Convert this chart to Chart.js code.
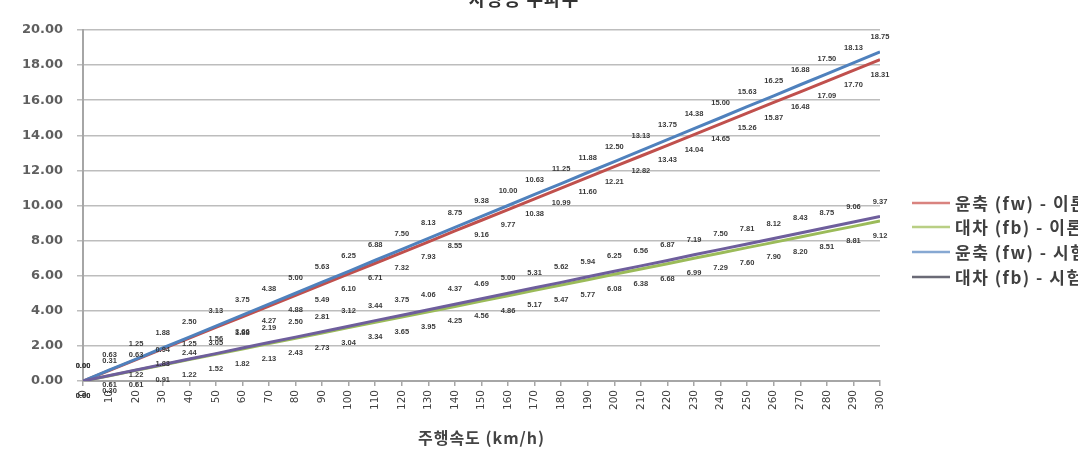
<!DOCTYPE html>
<html>
<head>
<meta charset="utf-8">
<script src="https://cdn.jsdelivr.net/npm/chart.js@4"></script>
<style>
  html, body { margin: 0; padding: 0; background: #fff; overflow: hidden; }
  #wrap { position: absolute; left: 0; top: 0; width: 1200px; height: 459px; }
</style>
</head>
<body>
<div id="wrap"><canvas id="c" width="1200" height="459"></canvas></div>
<script>
// ---- data ----
const chartTitle = "차량용 주파수";
const xAxisTitle = "주행속도 (km/h)";
const speeds = [0,10,20,30,40,50,60,70,80,90,100,110,120,130,140,150,160,170,180,190,200,210,220,230,240,250,260,270,280,290,300];
const fwTheory = [0.00,0.61,1.22,1.83,2.44,3.05,3.66,4.27,4.88,5.49,6.10,6.71,7.32,7.93,8.55,9.16,9.77,10.38,10.99,11.60,12.21,12.82,13.43,14.04,14.65,15.26,15.87,16.48,17.09,17.70,18.31];
const fbTheory = [0.00,0.30,0.61,0.91,1.22,1.52,1.82,2.13,2.43,2.73,3.04,3.34,3.65,3.95,4.25,4.56,4.86,5.17,5.47,5.77,6.08,6.38,6.68,6.99,7.29,7.60,7.90,8.20,8.51,8.81,9.12];
const fwTest = [0.00,0.63,1.25,1.88,2.50,3.13,3.75,4.38,5.00,5.63,6.25,6.88,7.50,8.13,8.75,9.38,10.00,10.63,11.25,11.88,12.50,13.13,13.75,14.38,15.00,15.63,16.25,16.88,17.50,18.13,18.75];
const fbTest = [0.00,0.31,0.63,0.94,1.25,1.56,1.88,2.19,2.50,2.81,3.12,3.44,3.75,4.06,4.37,4.69,5.00,5.31,5.62,5.94,6.25,6.56,6.87,7.19,7.50,7.81,8.12,8.43,8.75,9.06,9.37];
const seriesLabels = ["윤축 (fw) - 이론", "대차 (fb) - 이론", "윤축 (fw) - 시험", "대차 (fb) - 시험"];
const yTicks = [0,2,4,6,8,10,12,14,16,18,20];

const colors = ["#C0504D", "#9BBB59", "#4F81BD", "#6E5E9C"];
const legendColors = ["#D9837F", "#B9CF84", "#86A8D2", "#6A6A76"];
const labelOffsets = [15, 15, -15, -15];
const orders = [4, 3, 2, 1];

function pts(vals) { return speeds.map((s, i) => ({ x: s, y: vals[i] })); }
const allSeries = [fwTheory, fbTheory, fwTest, fbTest];

const datasets = allSeries.map((vals, i) => ({
  label: seriesLabels[i],
  data: pts(vals),
  borderColor: colors[i],
  backgroundColor: colors[i],
  borderWidth: 3,
  pointRadius: 0,
  tension: 0,
  fill: false,
  order: orders[i]
}));

const extras = {
  id: 'extras',
  afterDatasetsDraw(chart) {
    const ctx = chart.ctx;
    ctx.save();
    ctx.font = 'bold 7.5px "Liberation Sans"';
    ctx.fillStyle = '#3a3a3a';
    ctx.textAlign = 'center';
    ctx.textBaseline = 'middle';
    chart.data.datasets.forEach((ds, i) => {
      const meta = chart.getDatasetMeta(i);
      meta.data.forEach((el, j) => {
        ctx.fillText(allSeries[i][j].toFixed(2), el.x, el.y + labelOffsets[i]);
      });
    });
    ctx.restore();
  },
  afterDraw(chart) {
    const ctx = chart.ctx;
    ctx.save();
    // title (top cut off as in the reference)
    ctx.font = 'bold 18px "Noto Sans CJK KR"';
    ctx.fillStyle = '#333';
    ctx.textAlign = 'center';
    ctx.textBaseline = 'middle';
    if ('letterSpacing' in ctx) ctx.letterSpacing = '1px';
    ctx.fillText(chartTitle, 524, -1);
    // x axis title
    ctx.font = 'bold 16px "Noto Sans CJK KR"';
    ctx.fillStyle = '#444';
    const xa = chart.chartArea;
    ctx.fillText(xAxisTitle, (xa.left + xa.right) / 2, 438);
    // legend
    ctx.font = 'bold 17px "Noto Sans CJK KR"';
    if ('letterSpacing' in ctx) ctx.letterSpacing = '1.5px';
    ctx.textAlign = 'left';
    const rows = [203, 227, 252, 277];
    chart.data.datasets.forEach((ds, i) => {
      ctx.strokeStyle = legendColors[i];
      ctx.lineWidth = 2.5;
      ctx.beginPath();
      ctx.moveTo(912, rows[i]);
      ctx.lineTo(950, rows[i]);
      ctx.stroke();
      ctx.fillStyle = '#404040';
      ctx.fillText(ds.label, 955, rows[i] + 1);
    });
    if ('letterSpacing' in ctx) ctx.letterSpacing = '0px';
    ctx.restore();
  }
};

new Chart(document.getElementById('c'), {
  type: 'line',
  data: { datasets },
  options: {
    responsive: false,
    animation: false,
    devicePixelRatio: 1,
    layout: { padding: { top: 30, right: 320, left: 0, bottom: 0 } },
    plugins: { legend: { display: false }, title: { display: false }, tooltip: { enabled: false } },
    scales: {
      x: {
        type: 'linear',
        min: 0, max: 300,
        afterFit(s) { s.height = 78; },
        afterBuildTicks(s) { s.ticks = speeds.map(v => ({ value: v })); },
        ticks: {
          autoSkip: false, minRotation: 90, maxRotation: 90, padding: 4,
          font: { family: 'DejaVu Sans', size: 10.5 }, color: '#404040',
          callback: v => String(v)
        },
        grid: { drawOnChartArea: false, drawTicks: true, tickLength: 5, color: '#a6a6a6', lineWidth: 1.5 },
        border: { display: true, color: '#a6a6a6', width: 2 }
      },
      y: {
        min: 0, max: 20,
        afterFit(s) { s.width = 83; },
        afterBuildTicks(s) { s.ticks = yTicks.map(v => ({ value: v })); },
        ticks: {
          padding: 14,
          font: { family: 'DejaVu Sans', size: 13, weight: 'bold' }, color: '#5f5f5f',
          callback: v => Number(v).toFixed(2)
        },
        grid: { color: '#bdbdbd', lineWidth: 1.5, drawTicks: true, tickLength: 6 },
        border: { display: true, color: '#a6a6a6', width: 2 }
      }
    }
  },
  plugins: [extras]
});
</script>
</body>
</html>
